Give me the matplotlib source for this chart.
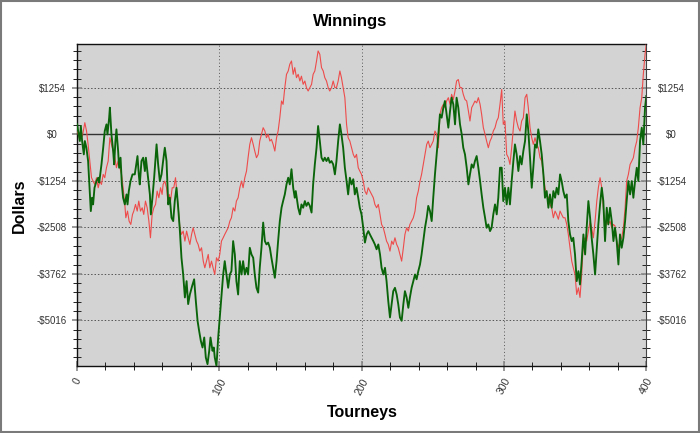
import numpy as np
import matplotlib
matplotlib.use("Agg")
import matplotlib.pyplot as plt
from matplotlib.patches import Rectangle

plt.rcParams['font.family'] = ['Liberation Sans', 'DejaVu Sans']

# ── data ──────────────────────────────────────────────────────────────────
green_t = [
    0.1, 0.8, 2.0, 2.7, 3.6, 4.8, 5.5, 6.6, 7.8, 9.7, 10.6, 11.3, 12.3, 13.7, 14.9, 15.6,
    17.2, 18.4, 19.5, 20.7, 21.4, 22.6, 23.1, 24.2, 25.4, 26.1, 27.0, 27.7, 28.9, 29.6,
    30.6, 31.5, 32.4, 33.6, 34.8, 35.5, 36.4, 37.6, 39.0, 40.6, 41.8, 42.5, 43.4, 44.1,
    45.3, 46.5, 47.7, 48.4, 49.3, 50.0, 51.2, 51.9, 53.0, 54.2, 55.9, 57.0, 58.2, 59.4,
    60.5, 61.7, 62.9, 64.1, 65.2, 66.4, 67.6, 68.7, 69.9, 71.1, 72.3, 73.4, 74.6, 75.8,
    77.0, 78.1, 79.3, 80.9, 82.3, 83.5, 84.7, 85.8, 87.0, 88.2, 89.4, 90.5, 91.7, 92.9,
    93.8, 95.2, 96.1, 96.8, 98.0, 99.2, 100.3, 101.5, 102.7, 103.8, 105.0, 106.2, 107.4,
    108.5, 109.7, 110.9, 112.0, 113.2, 114.4, 115.6, 116.7, 117.9, 119.1, 120.2, 121.4,
    122.6, 123.8, 124.9, 126.1, 127.3, 128.4, 129.6, 130.8, 132.0, 133.1, 134.3, 135.5,
    136.6, 137.8, 139.0, 140.2, 141.3, 142.5, 143.7, 144.8, 146.0, 147.2, 148.4, 149.5,
    150.7, 151.9, 153.0, 153.7, 154.7, 155.4, 156.6, 157.7, 158.9, 160.1, 161.2, 162.4,
    163.6, 164.8, 165.9, 167.1, 168.3, 169.4, 170.6, 171.8, 173.0, 174.1, 175.3, 176.5,
    177.6, 178.8, 180.0, 181.2, 182.3, 183.5, 184.7, 185.8, 187.0, 188.2, 189.4, 190.5,
    191.7, 192.9, 194.1, 195.2, 196.4, 197.6, 198.7, 199.9, 201.1, 202.3, 203.5, 204.7,
    205.8, 207.0, 208.2, 209.3, 210.5, 211.7, 212.9, 214.0, 215.2, 216.4, 217.5, 218.7,
    219.9, 221.1, 222.2, 223.4, 224.6, 225.7, 226.9, 228.1, 229.3, 230.4, 231.6, 232.8,
    233.9, 235.1, 236.3, 237.5, 238.6, 239.8, 241.0, 242.1, 243.3, 244.5, 245.7, 246.8,
    248.0, 249.2, 250.3, 251.5, 252.7, 253.9, 255.0, 256.2, 257.4, 258.5, 259.7, 260.9,
    262.1, 263.2, 264.4, 265.6, 266.7, 267.9, 269.1, 270.3, 271.4, 272.6, 273.8, 275.0,
    276.1, 277.3, 278.5, 279.6, 280.8, 282.0, 283.2, 284.3, 285.5, 286.7, 287.8, 289.0,
    290.2, 291.3, 292.5, 293.7, 294.9, 296.0, 297.2, 298.4, 299.5, 300.7, 301.9, 303.1,
    304.2, 305.4, 306.6, 307.7, 308.9, 310.1, 311.3, 312.4, 313.6, 314.8, 316.0, 317.1,
    318.3, 319.5, 320.6, 321.8, 323.0, 324.1, 325.3, 326.5, 327.7, 328.8, 330.0, 331.2,
    332.3, 333.5, 334.7, 335.9, 337.0, 338.2, 339.4, 340.5, 341.7, 342.9, 344.1, 345.2,
    346.4, 347.6, 348.7, 349.9, 351.1, 352.3, 353.4, 354.6, 355.8, 357.0, 358.1, 359.3,
    360.5, 361.6, 362.8, 364.0, 365.2, 366.3, 367.5, 368.7, 369.8, 371.0, 372.2, 373.3,
    374.5, 375.7, 376.9, 378.0, 379.2, 380.4, 381.5, 382.7, 383.9, 385.1, 386.2, 387.4,
    388.6, 389.8, 390.9, 392.1, 393.3, 394.4, 395.6, 396.8, 397.9, 399.1, 400.0,
]
green_val = [
    270, 90, -180, 225, -180, -540, -180, -360, -720, -2070, -1710, -1890, -1440, -1260,
    -1170, -1300, -810, -360, 90, 270, 0, 450, 720, 0, -450, -810, -180, 135, -450, -900,
    -630, -1350, -1710, -1890, -1620, -1890, -1530, -1260, -1080, -1080, -765, -585, -1080,
    -1350, -720, -630, -990, -630, -945, -1170, -1620, -2160, -1710, -1170, -270, -810,
    -1260, -1080, -720, -360, -720, -1890, -1710, -2250, -2340, -1800, -1440, -1980, -2610,
    -3330, -3780, -4400, -3960, -4580, -4320, -4090, -3910, -4500, -5030, -5300, -5570,
    -5750, -5480, -6020, -6200, -5840, -5480, -5840, -5750, -6020, -6250, -5480, -4940,
    -4320, -3780, -3420, -3780, -4140, -3780, -3690, -2880, -3240, -3960, -4320, -3420,
    -3780, -3420, -3780, -3600, -3780, -3060, -3240, -3330, -3780, -4140, -4270, -3600,
    -3060, -2380, -2880, -2970, -2920, -3060, -3330, -3600, -3870, -3420, -2880, -2340,
    -1980, -1800, -1620, -1350, -1170, -1350, -940, -1440, -1710, -1530, -1800, -1980,
    -2160, -1890, -1980, -1800, -1930, -1840, -1930, -2110, -1350, -810, -360, 225, -180,
    -630, -720, -630, -720, -630, -765, -720, -810, -1080, -720, -180, 270, 0, -360, -900,
    -1260, -1620, -1170, -1350, -1210, -1620, -1440, -1710, -1980, -2160, -2520, -2920,
    -2700, -2610, -2700, -2790, -2880, -2970, -3100, -2970, -3240, -3600, -3780, -3600,
    -3960, -4500, -4940, -4580, -4230, -4140, -4320, -4580, -4940, -5030, -4580, -4230,
    -4400, -4680, -4400, -4140, -3960, -3780, -3910, -3690, -3510, -3240, -2880, -2520,
    -2250, -1930, -2070, -2340, -1710, -1080, -540, 0, 540, 450, 720, 900, 540, 180, 630,
    990, 810, 270, 990, 720, 270, 0, -360, -540, -900, -1350, -1080, -810, -900, -720,
    -585, -900, -1260, -1620, -1980, -2250, -2520, -2430, -2610, -2520, -2160, -1890,
    -2160, -1710, -900, -900, -1800, -1440, -1890, -1440, -1890, -1260, -720, -270, -540,
    -990, -585, -810, -450, -180, 540, 90, -630, -1440, -900, -270, -360, 135, -180, -540,
    -1080, -1710, -1530, -1980, -1620, -1980, -1530, -1710, -1440, -1620, -1080, -1260,
    -1530, -1710, -1620, -2340, -2700, -2880, -2790, -3240, -3960, -3690, -4050, -3420,
    -2700, -3240, -2520, -1800, -2250, -2790, -3240, -3780, -3060, -2430, -1890, -1440,
    -1800, -2880, -1980, -2430, -1980, -2340, -2880, -2520, -2880, -3510, -2700, -3060,
    -2790, -2340, -1800, -1260, -1620, -1260, -1710, -1260, -900, -1260, -180, 180, -270,
    720, 1035,
]

red_t = [
    0.1, 2.0, 3.8, 5.5, 6.7, 7.8, 9.0, 10.2, 11.3, 12.5, 13.7, 14.9, 16.0, 17.2, 18.4,
    19.5, 20.7, 21.9, 23.1, 24.2, 25.4, 26.6, 27.7, 28.9, 30.1, 31.3, 32.4, 33.6, 34.3,
    35.5, 36.6, 37.8, 39.0, 39.9, 41.1, 42.3, 43.4, 44.6, 45.8, 46.9, 48.1, 49.3, 50.5,
    51.6, 52.8, 54.0, 55.2, 56.3, 57.5, 58.7, 59.8, 60.5, 61.7, 62.9, 64.1, 64.8, 65.7,
    66.9, 68.0, 69.2, 69.9, 71.1, 72.3, 73.4, 74.6, 75.8, 77.0, 78.1, 79.3, 80.5, 81.6,
    82.8, 84.0, 85.1, 86.3, 87.5, 88.7, 89.8, 91.0, 92.2, 93.3, 94.5, 95.6, 96.8, 98.0,
    99.2, 100.3, 101.5, 102.7, 103.8, 105.0, 106.2, 107.4, 108.5, 109.7, 110.9, 112.0,
    113.2, 114.4, 115.6, 116.7, 117.9, 119.1, 120.2, 121.4, 122.6, 123.8, 124.9, 126.1,
    127.3, 128.4, 129.6, 130.8, 132.0, 133.1, 134.3, 135.5, 136.6, 137.8, 139.0, 140.2,
    141.3, 142.5, 143.7, 144.8, 146.0, 147.2, 148.4, 149.5, 150.7, 151.9, 153.0, 154.2,
    155.4, 156.6, 157.7, 158.9, 160.1, 161.2, 162.4, 163.6, 164.8, 165.9, 167.1, 168.3,
    169.4, 170.6, 171.8, 173.0, 174.1, 175.3, 176.5, 177.6, 178.8, 180.0, 181.2, 182.3,
    183.5, 184.7, 185.8, 187.0, 188.2, 189.4, 190.5, 191.7, 192.9, 194.1, 195.2, 196.4,
    197.6, 198.7, 199.9, 201.1, 202.3, 203.5, 204.6, 205.8, 207.0, 208.2, 209.3, 210.5,
    211.7, 212.9, 214.0, 215.2, 216.4, 217.5, 218.7, 219.9, 221.1, 222.2, 223.4, 224.6,
    225.7, 226.9, 228.1, 229.3, 230.4, 231.6, 232.8, 233.9, 235.1, 236.3, 237.5, 238.6,
    239.8, 241.0, 242.1, 243.3, 244.5, 245.7, 246.8, 248.0, 249.2, 250.3, 251.5, 252.7,
    253.9, 255.0, 256.2, 257.4, 258.5, 259.7, 260.9, 262.1, 263.2, 264.4, 265.6, 266.7,
    267.9, 269.1, 270.3, 271.4, 272.6, 273.8, 275.0, 276.1, 277.3, 278.5, 279.6, 280.8,
    282.0, 283.2, 284.3, 285.5, 286.7, 287.8, 289.0, 290.2, 291.3, 292.5, 293.7, 294.9,
    296.0, 297.2, 298.4, 299.5, 300.7, 301.9, 303.1, 304.2, 305.4, 306.6, 307.7, 308.9,
    310.1, 311.3, 312.4, 313.6, 314.8, 316.0, 317.1, 318.3, 319.5, 320.6, 321.8, 323.0,
    324.1, 325.3, 326.5, 327.7, 328.8, 330.0, 331.2, 332.3, 333.5, 334.7, 335.9, 337.0,
    338.2, 339.4, 340.5, 341.7, 342.9, 344.1, 345.2, 346.4, 347.6, 348.7, 349.9, 351.1,
    352.3, 353.4, 354.6, 355.8, 357.0, 358.1, 359.3, 360.5, 361.6, 362.8, 364.0, 365.2,
    366.3, 367.5, 368.7, 369.8, 371.0, 372.2, 373.3, 374.5, 375.7, 376.9, 378.0, 379.2,
    380.4, 381.5, 382.7, 383.9, 385.1, 386.2, 387.4, 388.6, 389.8, 390.9, 392.1, 393.3,
    394.4, 395.6, 396.8, 397.9, 399.1, 400.0,
]
red_val = [
    90, -135, -45, 315, 90, -270, -720, -1170, -1260, -1350, -1170, -1440, -1260, -1350,
    -1080, -1170, -900, -720, -90, -270, -450, -630, -900, -720, -900, -1080, -1440, -1890,
    -2250, -2070, -2340, -2430, -2160, -2070, -1890, -2070, -1800, -2070, -1980, -2160,
    -1800, -1980, -2340, -2790, -2160, -1980, -1890, -1530, -1710, -1440, -1620, -1350,
    -1260, -1440, -1890, -1620, -1800, -1440, -1440, -1170, -1440, -1980, -2520, -2700,
    -2610, -2880, -2610, -2790, -2970, -2700, -2520, -2700, -2880, -2970, -3150, -3060,
    -3420, -3600, -3420, -3240, -3600, -3420, -3600, -3780, -3330, -3420, -3240, -2880,
    -2790, -2700, -2610, -2520, -2340, -2250, -1980, -2070, -1800, -1710, -1440, -1260,
    -1440, -1170, -990, -630, -270, -90, -270, -450, -630, -540, -180, 0, 180, 90, -90, 0,
    -180, -135, -270, -450, -90, 90, 450, 900, 810, 1260, 1620, 1710, 1890, 1980, 1620,
    1800, 1530, 1620, 1440, 1570, 1350, 1440, 1260, 1170, 1260, 1350, 1620, 1710, 1980,
    2250, 2160, 1800, 1710, 1530, 1440, 1260, 1170, 1260, 1440, 1260, 1260, 1440, 1710,
    1530, 1260, 990, 270, -90, -180, -360, -540, -630, -540, -900, -990, -1080, -1260,
    -1530, -1620, -1440, -1530, -1620, -1710, -1890, -1980, -1890, -2160, -2430, -2520,
    -2700, -2880, -2970, -3150, -2880, -2970, -2790, -2970, -3060, -3240, -3420, -3060,
    -2700, -2520, -2610, -2430, -2340, -2250, -2070, -1710, -1530, -1260, -1080, -810,
    -540, -270, -180, -360, -270, -180, 90, 0, -360, 540, 720, 810, 720, 900, 990, 810,
    1080, 940, 1170, 1440, 1480, 1260, 1260, 1080, 940, 900, 630, 360, 720, 810, 900, 850,
    990, 810, 540, 180, 0, -180, -360, -180, -90, 90, 180, 360, 450, 810, 1210, 270, 360,
    -540, -630, -810, -360, 180, 630, 360, 180, 90, 360, 450, 990, 1080, 720, 180, -90,
    -270, -90, -270, -360, -630, -720, -1080, -1440, -1620, -1710, -1890, -1980, -2250,
    -2070, -2160, -2290, -2070, -2160, -2250, -2250, -2430, -2700, -3060, -3420, -3600,
    -3780, -4320, -4140, -4400, -3780, -2880, -2790, -2880, -2610, -2340, -2520, -2790,
    -2340, -1800, -1440, -1170, -1440, -1980, -2520, -2340, -2430, -2340, -2520, -2430,
    -2470, -2880, -3060, -2880, -2790, -2520, -1980, -1260, -1080, -810, -720, -630, -360,
    -180, 180, 720, 990, 1620, 2160, 2430,
]

y_ticks = [1254, 0, -1254, -2508, -3762, -5016]
y_ticklabels = ['$1254', '$0', '-$1254', '-$2508', '-$3762', '-$5016']
x_ticks = [0, 100, 200, 300, 400]

# ── style ─────────────────────────────────────────────────────────────────
BG = '#d3d3d3'
GREEN = '#0a650a'
RED = '#ee4b4b'
TICK_TXT = '#333333'

fig = plt.figure(figsize=(7.0, 4.33), dpi=100, facecolor='white')
ax = fig.add_axes([0.110, 0.1547, 0.8133, 0.743], facecolor=BG)

ax.plot(red_t, red_val, color=RED, lw=0.8, zorder=3)
ax.plot(green_t, green_val, color=GREEN, lw=1.35, zorder=4)

ymin = min(min(green_val), min(red_val))
ymax = max(max(green_val), max(red_val))
ax.set_xlim(0, 400)
ax.set_ylim(ymin, ymax)

# grid: dotted verticals, dashed horizontals, solid zero line
for xv in x_ticks[1:-1]:
    ax.axvline(xv, color='#555555', lw=0.7, ls=(0, (1, 2.5)), zorder=1)
for yv in y_ticks:
    if yv == 0:
        ax.axhline(0, color='#333333', lw=1.0, zorder=2)
    else:
        ax.axhline(yv, color='#555555', lw=0.7, ls=(0, (1.5, 2)), zorder=1)

ax.set_xticks(x_ticks)
ax.set_xticks(np.arange(0, 401, 20), minor=True)
ax.set_yticks(y_ticks)
ax.set_yticklabels(y_ticklabels)
minor_y = np.arange(np.ceil(ymin / 250.8), np.floor(ymax / 250.8) + 1) * 250.8
ax.set_yticks(minor_y, minor=True)

ax.tick_params(axis='both', which='both', direction='inout', colors='#222222')
ax.tick_params(axis='both', which='major', length=7, width=1.2, color='#888888',
               labelcolor=TICK_TXT)
ax.tick_params(axis='y', which='major', labelsize=7)
ax.tick_params(axis='x', which='major', labelsize=7.5)
ax.tick_params(axis='both', which='minor', length=5.5, width=0.7)
ax.tick_params(axis='y', which='both', left=True, right=True, labelleft=True, labelright=True)
ax.tick_params(axis='x', which='major', pad=4)

for tick in ax.yaxis.get_major_ticks():
    tick.label1.set_horizontalalignment('center')
    tick.label2.set_horizontalalignment('center')
    tick.set_pad(14.5)
for lab in ax.get_xticklabels():
    lab.set_rotation(62)
    lab.set_horizontalalignment('center')
    lab.set_verticalalignment('top')

for side in ('top', 'left', 'bottom'):
    ax.spines[side].set_color('#111111')
    ax.spines[side].set_linewidth(1.0)
ax.spines['right'].set_color('#444444')
ax.spines['right'].set_linewidth(0.8)

fig.text(0.5, 0.951, 'Winnings', ha='center', va='center',
         fontsize=12, fontweight='bold')
fig.text(0.517, 0.047, 'Tourneys', ha='center', va='center',
         fontsize=11.5, fontweight='bold')
fig.text(0.028, 0.525, 'Dollars', ha='center', va='center', rotation=90,
         fontsize=11.5, fontweight='bold')

# thin frame round the whole picture
fig.patches.append(Rectangle((0.001, 0.002), 0.997, 0.996, transform=fig.transFigure,
                             fill=False, edgecolor='#7a7a7a', lw=1.5))

fig.savefig('out.png', dpi=100, facecolor='white')
